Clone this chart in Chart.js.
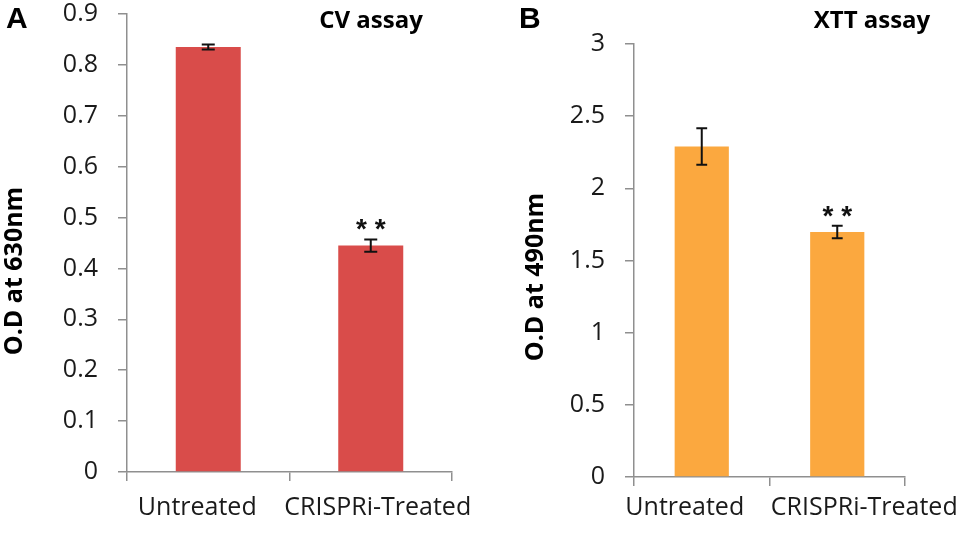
<!DOCTYPE html>
<html>
<head>
<meta charset="utf-8">
<script src="https://cdn.jsdelivr.net/npm/chart.js@4"></script>
<style>
  body { margin: 0; background: #fff; }
  .panel { position: absolute; top: 0; width: 481px; height: 544px; }
</style>
</head>
<body>
<div class="panel" style="left:0"><canvas id="cv"></canvas></div>
<div class="panel" style="left:481px"><canvas id="xtt"></canvas></div>
<script>
// data
const categories = ['Untreated', 'CRISPRi-Treated']
const cvValues = [0.835, 0.445]
const cvErrors = [0.005, 0.012]
const xttValues = [2.29, 1.698]
const xttErrors = [0.127, 0.043]
const significance = ['', '* *']
const cvTicks = [0, 0.1, 0.2, 0.3, 0.4, 0.5, 0.6, 0.7, 0.8, 0.9]
const xttTicks = [0, 0.5, 1, 1.5, 2, 2.5, 3]

const AXIS_GRAY = '#8f8f8f'
const TEXT = '#1a1a1a'

// error bars, stars, category labels and panel texts
const extras = {
    id: 'extras',
    afterDatasetsDraw(chart, args, opts) {
        const ctx = chart.ctx
        const meta = chart.getDatasetMeta(0)
        const x = chart.scales.x
        const y = chart.scales.y
        ctx.save()
        meta.data.forEach((bar, i) => {
            const v = opts.values[i], e = opts.errors[i]
            const top = y.getPixelForValue(v + e)
            const bot = y.getPixelForValue(v - e)
            const half = bar.width * 0.1
            ctx.strokeStyle = '#111'
            ctx.lineWidth = 2
            ctx.beginPath()
            ctx.moveTo(bar.x, top); ctx.lineTo(bar.x, bot)
            ctx.moveTo(bar.x - half, top); ctx.lineTo(bar.x + half, top)
            ctx.moveTo(bar.x - half, bot); ctx.lineTo(bar.x + half, bot)
            ctx.stroke()
            if (opts.stars[i]) {
                ctx.fillStyle = '#111'
                ctx.font = 'bold 28px "Liberation Sans"'
                ctx.textAlign = 'center'
                ctx.textBaseline = 'alphabetic'
                ctx.fillText(opts.stars[i], bar.x, top - 1)
            }
        })
        // category labels, nudged apart like the original
        ctx.fillStyle = TEXT
        ctx.font = '25px "Open Sans"'
        ctx.textAlign = 'center'
        ctx.textBaseline = 'middle'
        categories.forEach((c, i) => {
            ctx.fillText(c, x.getPixelForTick(i) + opts.labelShift[i], chart.chartArea.bottom + opts.labelDrop)
        })
        // panel letter
        ctx.fillStyle = '#000'
        ctx.textAlign = 'left'
        ctx.textBaseline = 'alphabetic'
        ctx.font = 'bold 30px "Liberation Sans"'
        ctx.fillText(opts.letter, opts.letterX, 28)
        // assay title
        ctx.textAlign = 'center'
        ctx.font = 'bold 24px "Open Sans"'
        ctx.fillText(opts.title, opts.titleX, 28)
        // y axis title
        ctx.save()
        ctx.translate(opts.yTitleX, opts.yTitleY)
        ctx.rotate(-Math.PI / 2)
        ctx.font = 'bold 25px "Open Sans"'
        ctx.textBaseline = 'middle'
        ctx.fillText(opts.yTitle, 0, 0)
        ctx.restore()
        ctx.restore()
    }
}

function makeChart(id, values, color, ticks, max, geo, extraOpts) {
    return new Chart(document.getElementById(id), {
        type: 'bar',
        data: {
            labels: categories,
            datasets: [{
                data: values,
                backgroundColor: color,
                barPercentage: 0.4,
                categoryPercentage: 1
            }]
        },
        options: {
            responsive: true,
            maintainAspectRatio: false,
            animation: false,
            devicePixelRatio: 1,
            layout: { padding: { left: 0, top: geo.top, right: geo.right, bottom: 0 } },
            plugins: {
                legend: { display: false },
                tooltip: { enabled: false },
                extras: Object.assign({ values: values, stars: significance }, extraOpts)
            },
            scales: {
                x: {
                    offset: true,
                    grid: { offset: true, drawOnChartArea: false, tickLength: 9, color: AXIS_GRAY, lineWidth: 1.5 },
                    border: { color: AXIS_GRAY, width: 1.5 },
                    ticks: { display: false },
                    afterFit: (s) => { s.height = geo.xHeight; s.paddingLeft = 0; s.paddingRight = 0 }
                },
                y: {
                    min: 0,
                    max: max,
                    grid: { drawOnChartArea: false, tickLength: 9, color: AXIS_GRAY, lineWidth: 1.5 },
                    border: { color: AXIS_GRAY, width: 1.5 },
                    ticks: {
                        font: { family: 'Open Sans', size: 25 }, color: TEXT, padding: 20,
                        callback: (v) => String(+v.toFixed(2))
                    },
                    afterBuildTicks: (s) => { s.ticks = ticks.map(v => ({ value: v })) },
                    afterFit: (s) => { s.width = geo.yWidth; s.paddingTop = 0; s.paddingBottom = 0 }
                }
            }
        },
        plugins: [extras]
    })
}

makeChart('cv', cvValues, '#d94c4a', cvTicks, 0.9,
    { top: 14, right: 29, yWidth: 127, xHeight: 72 },
    { errors: cvErrors, letter: 'A', letterX: 6, title: 'CV assay', titleX: 371,
      yTitle: 'O.D at 630nm', yTitleX: 15, yTitleY: 271,
      labelShift: [-11, 7], labelDrop: 36 })

makeChart('xtt', xttValues, '#fba83f', xttTicks, 3,
    { top: 44, right: 57, yWidth: 153, xHeight: 67 },
    { errors: xttErrors, letter: 'B', letterX: 38, title: 'XTT assay', titleX: 391,
      yTitle: 'O.D at 490nm', yTitleX: 55, yTitleY: 277,
      labelShift: [-17, 27], labelDrop: 31 })
</script>
</body>
</html>
